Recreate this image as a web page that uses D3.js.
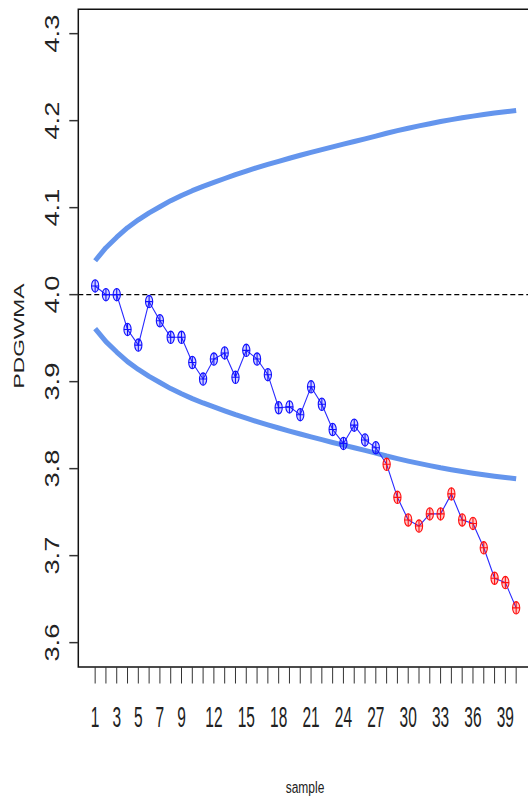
<!DOCTYPE html>
<html>
<head>
<meta charset="utf-8">
<script src="https://cdn.jsdelivr.net/npm/d3@7/dist/d3.min.js"></script>
<style>
  html, body { margin: 0; padding: 0; background: #fff; }
  svg { display: block; }
  text { font-family: "Liberation Sans", Arial, sans-serif; fill: #222; }
</style>
</head>
<body>
<svg id="chart" width="528" height="799"></svg>
<script>
// PDGWMA statistic per sample with its time-varying control limits
const samples = [1,2,3,4,5,6,7,8,9,10,11,12,13,14,15,16,17,18,19,20,
                 21,22,23,24,25,26,27,28,29,30,31,32,33,34,35,36,37,38,39,40];
const pdgwma = [4.010,4.000,4.000,3.960,3.942,3.992,3.970,3.951,3.951,3.922,
                3.903,3.926,3.933,3.905,3.936,3.926,3.908,3.870,3.871,3.862,
                3.894,3.874,3.845,3.829,3.850,3.833,3.824,3.805,3.767,3.741,
                3.734,3.748,3.748,3.771,3.741,3.737,3.709,3.674,3.669,3.640];
const ucl = [4.0390,4.0540,4.0660,4.0770,4.0860,4.0940,4.1010,4.1080,4.1140,4.1195,
             4.1245,4.1290,4.1335,4.1380,4.1420,4.1460,4.1497,4.1533,4.1568,4.1602,
             4.1635,4.1667,4.1699,4.1730,4.1760,4.1790,4.1822,4.1855,4.1885,4.1913,
             4.1940,4.1965,4.1990,4.2012,4.2033,4.2052,4.2070,4.2087,4.2102,4.2116];
const lcl = [3.9610,3.9460,3.9340,3.9230,3.9140,3.9060,3.8990,3.8920,3.8860,3.8805,
             3.8755,3.8710,3.8665,3.8620,3.8580,3.8540,3.8503,3.8467,3.8432,3.8398,
             3.8365,3.8333,3.8301,3.8270,3.8240,3.8210,3.8178,3.8145,3.8115,3.8087,
             3.8060,3.8035,3.8010,3.7988,3.7967,3.7948,3.7930,3.7913,3.7898,3.7884];
const centerLine = 4.0;
const yTicks = [3.6, 3.7, 3.8, 3.9, 4.0, 4.1, 4.2, 4.3];
const xTickLabels = [1,3,5,7,9,12,15,18,21,24,27,30,33,36,39];

const svg = d3.select("#chart");
const box = { left: 78.3, top: 9.3, bottom: 667, right: 533 };

// R-style 4% padding around the data ranges
const x = d3.scaleLinear().domain([1 - 0.04 * 39, 40 + 0.04 * 39]).range([box.left, box.right]);
const y = d3.scaleLinear().domain([3.6 - 0.028, 4.3 + 0.028]).range([box.bottom, box.top]);

// control limits
const seriesLine = d3.line().x((d, i) => x(samples[i])).y(d => y(d));
[ucl, lcl].forEach(arr => {
  svg.append("path").datum(arr)
    .attr("d", seriesLine)
    .attr("fill", "none")
    .attr("stroke", "#6495ED")
    .attr("stroke-width", 5)
    .attr("stroke-linejoin", "round");
});

// target line
svg.append("line")
  .attr("x1", box.left).attr("x2", 528)
  .attr("y1", y(centerLine)).attr("y2", y(centerLine))
  .attr("stroke", "#000").attr("stroke-width", 1.4)
  .attr("stroke-dasharray", "5,3");

// statistic path
svg.append("path").datum(pdgwma)
  .attr("d", seriesLine)
  .attr("fill", "none")
  .attr("stroke", "#2a2aff")
  .attr("stroke-width", 1.1);

// circle-plus markers, red when outside the limits
const pts = svg.append("g").selectAll("g").data(pdgwma).join("g")
  .attr("transform", (d, i) => `translate(${x(samples[i])},${y(d)})`);
const outside = (d, i) => d < lcl[i] || d > ucl[i];
pts.append("ellipse")
  .attr("rx", 3.6).attr("ry", 6.2)
  .attr("fill", (d, i) => outside(d, i) ? "rgba(255,0,0,0.22)" : "rgba(0,0,255,0.18)")
  .attr("stroke", (d, i) => outside(d, i) ? "#ff1010" : "#1010ff")
  .attr("stroke-width", 1.1);
pts.append("path")
  .attr("d", "M-3.6,0H3.6M0,-6.2V6.2")
  .attr("stroke", (d, i) => outside(d, i) ? "#ff1010" : "#1010ff")
  .attr("stroke-width", 1.1);

// plot frame (right side runs past the edge)
svg.append("path")
  .attr("d", `M${box.right},${box.top}H${box.left}V${box.bottom}H${box.right}`)
  .attr("fill", "none").attr("stroke", "#111").attr("stroke-width", 1.5);

// y axis
const yAxis = svg.append("g");
yAxis.selectAll("line").data(yTicks).join("line")
  .attr("x1", 69.3).attr("x2", box.left)
  .attr("y1", d => y(d)).attr("y2", d => y(d))
  .attr("stroke", "#333").attr("stroke-width", 1.5);
yAxis.selectAll("text").data(yTicks).join("text")
  .attr("transform", d => `translate(59.3,${y(d)}) scale(1,1.4) rotate(-90)`)
  .attr("text-anchor", "middle")
  .attr("font-size", 19.5)
  .text(d => d.toFixed(1));

// x axis
const xAxis = svg.append("g");
xAxis.selectAll("line").data(samples).join("line")
  .attr("x1", d => x(d)).attr("x2", d => x(d))
  .attr("y1", box.bottom).attr("y2", 683.5)
  .attr("stroke", "#333").attr("stroke-width", 1);
xAxis.selectAll("text").data(xTickLabels).join("text")
  .attr("transform", d => `translate(${x(d)},727.3) scale(1,1.9)`)
  .attr("text-anchor", "middle")
  .attr("font-size", 15.5)
  .text(d => d);

// axis titles
svg.append("text")
  .attr("transform", "translate(24,336) scale(1,1.48) rotate(-90)")
  .attr("text-anchor", "middle")
  .attr("font-size", 15.4)
  .text("PDGWMA");
svg.append("text")
  .attr("transform", "translate(305,793) scale(1,1.3)")
  .attr("text-anchor", "middle")
  .attr("font-size", 12)
  .text("sample");
</script>
</body>
</html>
